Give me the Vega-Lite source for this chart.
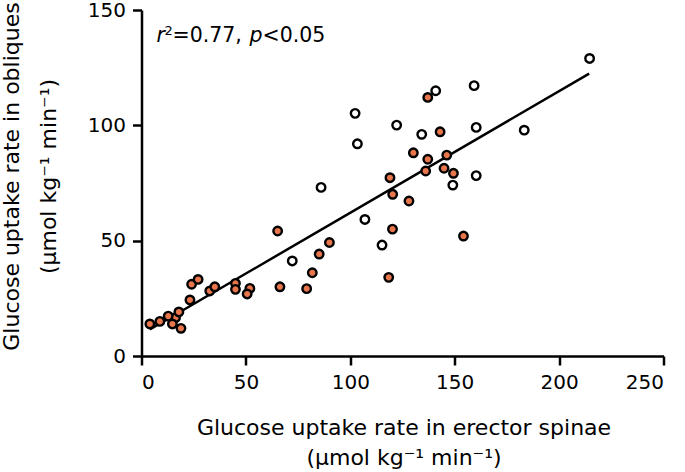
{
  "$schema": "https://vega.github.io/schema/vega-lite/v6.json",
  "width": 522,
  "height": 346,
  "autosize": {"type": "none"},
  "padding": {"left": 141.5, "top": 10, "right": 21.5, "bottom": 116},
  "background": "white",
  "config": {
    "view": {"stroke": null},
    "font": "DejaVu Sans",
    "axis": {
      "grid": false,
      "domainColor": "black",
      "domainWidth": 2.5,
      "tickColor": "black",
      "tickWidth": 2.5,
      "tickSize": 9,
      "labelPadding": 7,
      "labelFont": "DejaVu Sans",
      "labelFontSize": 20,
      "labelColor": "black",
      "titleFont": "DejaVu Sans",
      "titleFontSize": 22,
      "titleFontWeight": "normal",
      "titleColor": "black"
    }
  },
  "layer": [
    {
      "data": {"values": [{"x": 4.0, "y": 11.5}, {"x": 214.4, "y": 122.4}]},
      "mark": {"type": "line", "color": "black", "strokeWidth": 2.5},
      "encoding": {
        "x": {
          "field": "x", "type": "quantitative",
          "scale": {"domain": [0, 250], "nice": false, "zero": false},
          "axis": {
            "values": [0, 50, 100, 150, 200, 250],
            "title": ["Glucose uptake rate in erector spinae", "(µmol kg⁻¹ min⁻¹)"],
            "titleBaseline": "alphabetic",
            "titleLineHeight": 30,
            "titleX": 262,
            "titleY": 78,
            "titleAlign": "center"
          }
        },
        "y": {
          "field": "y", "type": "quantitative",
          "scale": {"domain": [0, 150], "nice": false, "zero": false},
          "axis": {
            "values": [0, 50, 100, 150],
            "title": ["Glucose uptake rate in obliques", "(µmol kg⁻¹ min⁻¹)"],
            "titleBaseline": "alphabetic",
            "titleLineHeight": 37,
            "titleAngle": -90,
            "titleAlign": "center",
            "titleX": -123.5,
            "titleY": 166
          }
        }
      }
    },
    {
      "data": {
        "values": [
          {"x": 72.2, "y": 41.2, "group": "open"},
          {"x": 86.0, "y": 73.1, "group": "open"},
          {"x": 102.3, "y": 105.2, "group": "open"},
          {"x": 103.4, "y": 92.0, "group": "open"},
          {"x": 107.0, "y": 59.2, "group": "open"},
          {"x": 115.2, "y": 48.1, "group": "open"},
          {"x": 122.2, "y": 100.1, "group": "open"},
          {"x": 134.2, "y": 96.1, "group": "open"},
          {"x": 140.9, "y": 115.0, "group": "open"},
          {"x": 149.1, "y": 74.1, "group": "open"},
          {"x": 159.3, "y": 117.2, "group": "open"},
          {"x": 160.3, "y": 99.1, "group": "open"},
          {"x": 160.3, "y": 78.2, "group": "open"},
          {"x": 183.3, "y": 97.9, "group": "open"},
          {"x": 214.6, "y": 129.0, "group": "open"},
          {"x": 4.0, "y": 13.9, "group": "filled"},
          {"x": 8.8, "y": 15.0, "group": "filled"},
          {"x": 16.3, "y": 16.6, "group": "filled"},
          {"x": 12.8, "y": 17.3, "group": "filled"},
          {"x": 17.9, "y": 19.1, "group": "filled"},
          {"x": 14.8, "y": 13.9, "group": "filled"},
          {"x": 18.9, "y": 12.0, "group": "filled"},
          {"x": 23.2, "y": 24.3, "group": "filled"},
          {"x": 24.0, "y": 31.1, "group": "filled"},
          {"x": 27.1, "y": 33.2, "group": "filled"},
          {"x": 32.7, "y": 28.2, "group": "filled"},
          {"x": 35.1, "y": 30.0, "group": "filled"},
          {"x": 45.0, "y": 31.5, "group": "filled"},
          {"x": 45.0, "y": 28.9, "group": "filled"},
          {"x": 51.9, "y": 29.3, "group": "filled"},
          {"x": 50.6, "y": 26.9, "group": "filled"},
          {"x": 65.2, "y": 54.2, "group": "filled"},
          {"x": 66.3, "y": 30.0, "group": "filled"},
          {"x": 79.1, "y": 29.2, "group": "filled"},
          {"x": 81.8, "y": 36.1, "group": "filled"},
          {"x": 85.1, "y": 44.2, "group": "filled"},
          {"x": 90.0, "y": 49.2, "group": "filled"},
          {"x": 118.4, "y": 34.1, "group": "filled"},
          {"x": 119.0, "y": 77.3, "group": "filled"},
          {"x": 120.3, "y": 70.1, "group": "filled"},
          {"x": 120.2, "y": 55.0, "group": "filled"},
          {"x": 128.1, "y": 67.2, "group": "filled"},
          {"x": 130.2, "y": 88.1, "group": "filled"},
          {"x": 136.1, "y": 80.2, "group": "filled"},
          {"x": 137.1, "y": 85.3, "group": "filled"},
          {"x": 137.1, "y": 112.1, "group": "filled"},
          {"x": 143.0, "y": 97.2, "group": "filled"},
          {"x": 144.9, "y": 81.4, "group": "filled"},
          {"x": 146.2, "y": 87.1, "group": "filled"},
          {"x": 149.4, "y": 79.2, "group": "filled"},
          {"x": 154.2, "y": 52.0, "group": "filled"}
        ]
      },
      "mark": {"type": "point", "shape": "circle", "filled": true, "size": 72, "stroke": "black", "strokeWidth": 2.4, "opacity": 1},
      "encoding": {
        "x": {"field": "x", "type": "quantitative"},
        "y": {"field": "y", "type": "quantitative"},
        "fill": {
          "field": "group", "type": "nominal",
          "scale": {"domain": ["filled", "open"], "range": ["#E8764C", "#FFFFFF"]},
          "legend": null
        }
      }
    },
    {
      "data": {"values": [{}]},
      "mark": {"type": "text", "text": "r", "fontStyle": "italic", "fontSize": 20.5, "align": "left", "baseline": "alphabetic", "color": "black"},
      "encoding": {"x": {"datum": 7.2, "type": "quantitative"}, "y": {"datum": 136.1, "type": "quantitative"}}
    },
    {
      "data": {"values": [{}]},
      "mark": {"type": "text", "text": "2", "fontSize": 13, "align": "left", "baseline": "alphabetic", "dx": 8, "dy": -7.5, "color": "black"},
      "encoding": {"x": {"datum": 7.2, "type": "quantitative"}, "y": {"datum": 136.1, "type": "quantitative"}}
    },
    {
      "data": {"values": [{}]},
      "mark": {"type": "text", "text": "=0.77,", "fontSize": 20.5, "align": "left", "baseline": "alphabetic", "dx": 16, "color": "black"},
      "encoding": {"x": {"datum": 7.2, "type": "quantitative"}, "y": {"datum": 136.1, "type": "quantitative"}}
    },
    {
      "data": {"values": [{}]},
      "mark": {"type": "text", "text": "p", "fontStyle": "italic", "fontSize": 20.5, "align": "left", "baseline": "alphabetic", "dx": 93, "color": "black"},
      "encoding": {"x": {"datum": 7.2, "type": "quantitative"}, "y": {"datum": 136.1, "type": "quantitative"}}
    },
    {
      "data": {"values": [{}]},
      "mark": {"type": "text", "text": "<0.05", "fontSize": 20.5, "align": "left", "baseline": "alphabetic", "dx": 106, "color": "black"},
      "encoding": {"x": {"datum": 7.2, "type": "quantitative"}, "y": {"datum": 136.1, "type": "quantitative"}}
    }
  ]
}
